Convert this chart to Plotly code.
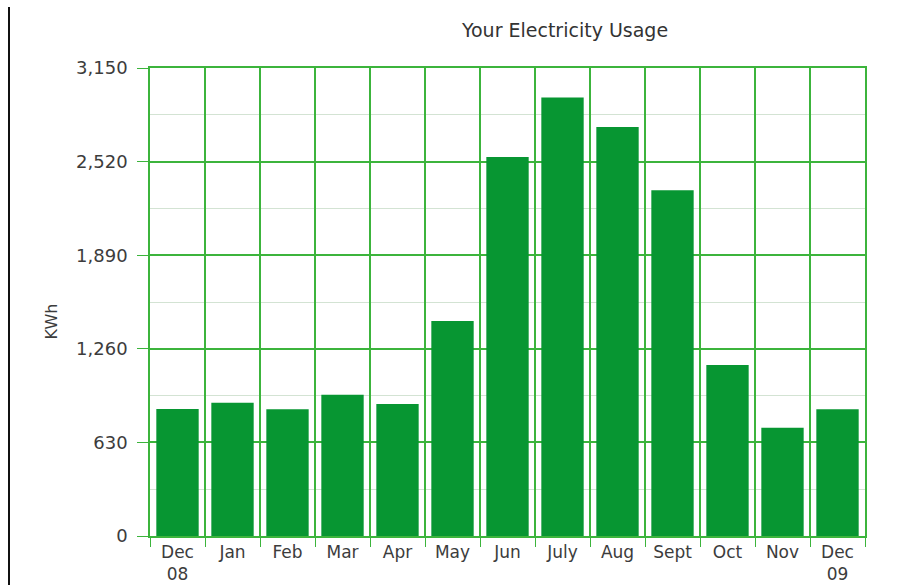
import plotly.graph_objects as go

months = ["Dec<br>08", "Jan", "Feb", "Mar", "Apr", "May", "Jun", "July", "Aug", "Sept", "Oct", "Nov", "Dec<br>09"]
usage_kwh = [855, 897, 853, 951, 888, 1447, 2551, 2952, 2753, 2327, 1151, 729, 853]
y_ticks = [0, 630, 1260, 1890, 2520, 3150]
y_tick_labels = ["0", "630", "1,260", "1,890", "2,520", "3,150"]

GRID = "#3cb43c"
BAR = "#079632"
TXT = "#3c3c3c"
FONT = "DejaVu Sans, Liberation Sans, Arial, sans-serif"

W, H = 915, 585
L, R, T, B = 150, 50, 68, 49

fig = go.Figure(go.Bar(
    x=months, y=usage_kwh, marker=dict(color=BAR, line=dict(width=0)),
))

fig.update_layout(
    width=W, height=H,
    margin=dict(l=L, r=R, t=T, b=B, autoexpand=False),
    paper_bgcolor="white", plot_bgcolor="white",
    bargap=0.23,
    showlegend=False,
    font=dict(family=FONT, size=17, color=TXT),
    title=dict(text="Your Electricity Usage", x=565 / W, xanchor="center",
               y=1 - 30 / H, yanchor="middle", xref="container", yref="container",
               font=dict(family=FONT, size=19, color="#333333")),
)

fig.update_xaxes(
    type="category", tickson="boundaries", ticks="outside", ticklen=9, tickcolor=GRID,
    showgrid=True, gridcolor=GRID, gridwidth=1.5,
    showline=True, linecolor=GRID, linewidth=1.5, mirror=True,
    tickfont=dict(family=FONT, size=17, color=TXT), automargin=False,
)
fig.update_yaxes(
    range=[0, 3150], tickvals=y_ticks, ticktext=y_tick_labels,
    ticks="outside", ticklen=11, tickcolor=GRID, ticklabelstandoff=6,
    showgrid=True, gridcolor=GRID, gridwidth=1.5,
    showline=True, linecolor=GRID, linewidth=1.5, mirror=True,
    zeroline=False, automargin=False,
    minor=dict(dtick=315, tick0=0, showgrid=True, gridcolor="#d3e3d3", gridwidth=1, ticks=""),
    tickfont=dict(family=FONT, size=18, color=TXT),
)

plot_w = W - L - R
plot_h = H - T - B
fig.add_annotation(text="KWh", textangle=-90, xref="paper", yref="paper",
                   x=(39 - L) / plot_w, y=(H - B - 321) / plot_h,
                   showarrow=False, font=dict(family=FONT, size=16, color=TXT))

fig.add_shape(type="line", xref="paper", yref="paper",
              x0=(9 - L) / plot_w, x1=(9 - L) / plot_w,
              y0=-(B) / plot_h, y1=(H - B - 7) / plot_h,
              line=dict(color="#111111", width=2))

fig.write_html("out.html")
